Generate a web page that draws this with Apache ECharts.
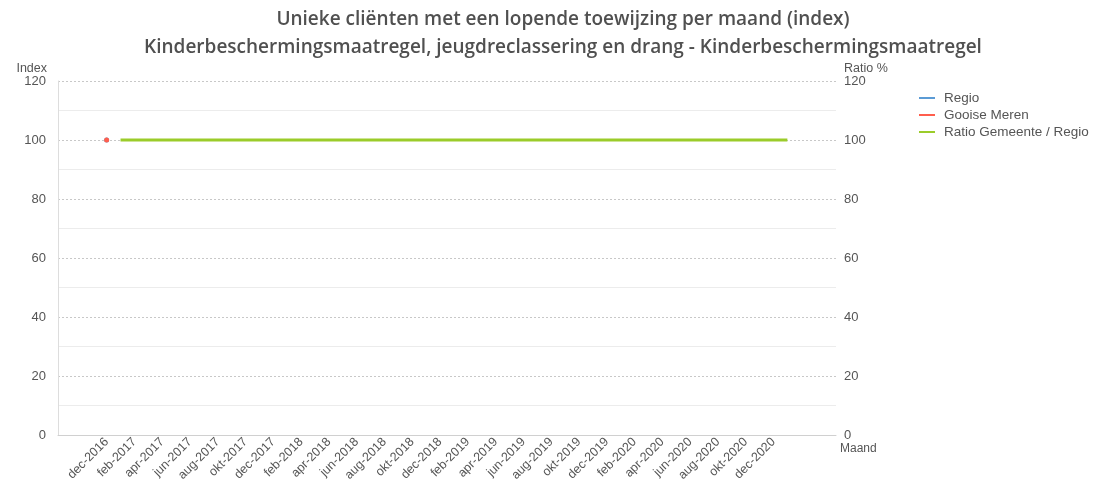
<!DOCTYPE html>
<html><head><meta charset="utf-8">
<script src="https://cdn.jsdelivr.net/npm/echarts@6/dist/echarts.min.js"></script>
<style>html,body{margin:0;padding:0;background:#fff}#c{width:1106px;height:490px}</style>
</head><body><div id="c"></div>
<script>
const monthNames = ['jan','feb','mrt','apr','mei','jun','jul','aug','sep','okt','nov','dec'];
// categories sep-2016 .. apr-2021
const categories = [];
for (let y = 2016; y <= 2021; y++) for (let m = 0; m < 12; m++) {
  const k = y * 12 + m;
  if (k >= 2016 * 12 + 8 && k <= 2021 * 12 + 3) categories.push(monthNames[m] + '-' + y);
}
const firstLabel = 'dec-2016', lastLabel = 'dec-2020';
const regioValues = { 'dec-2016': 100 };
const gooiseValues = { 'dec-2016': 100 };
const ratioStart = 'jan-2017', ratioEnd = 'jan-2021', ratioValue = 100;

const iFirst = categories.indexOf(firstLabel), iLast = categories.indexOf(lastLabel);
const iRs = categories.indexOf(ratioStart), iRe = categories.indexOf(ratioEnd);
const regio = categories.map(c => regioValues[c] ?? null);
const gooise = categories.map(c => gooiseValues[c] ?? null);
const ratio = categories.map((c, i) => (i >= iRs && i <= iRe) ? ratioValue : null);

const font = 'Liberation Sans, Arial, sans-serif';
const chart = echarts.init(document.getElementById('c'));
chart.setOption({
  animation: false,
  title: {
    text: 'Unieke cliënten met een lopende toewijzing per maand (index)\nKinderbeschermingsmaatregel, jeugdreclassering en drang - Kinderbeschermingsmaatregel',
    left: 558, top: 1, textAlign: 'center',
    textStyle: { fontFamily: 'Open Sans, Noto Sans, sans-serif', fontWeight: 600, fontSize: 19, color: '#505050', lineHeight: 28 }
  },
  legend: {
    orient: 'vertical', left: 914, top: 86, itemGap: 3,
    itemWidth: 16, itemHeight: 2, icon: 'rect',
    textStyle: { fontFamily: font, fontSize: 13.5, color: '#555', padding: [0, 0, 0, 4] },
    data: ['Regio', 'Gooise Meren', 'Ratio Gemeente / Regio']
  },
  grid: { left: 58, right: 270, top: 81, bottom: 55 },
  xAxis: {
    type: 'category', data: categories, boundaryGap: true,
    name: 'Maand', nameLocation: 'end', nameGap: 4,
    nameTextStyle: { fontFamily: font, fontSize: 12, color: '#555', padding: [8, 0, 0, 0], verticalAlign: 'top' },
    axisLine: { lineStyle: { color: '#d0d0d0' } },
    axisTick: { show: false },
    axisLabel: {
      rotate: 45, fontFamily: font, fontSize: 12.5, color: '#555', margin: 5,
      interval: (idx) => idx >= iFirst && idx <= iLast && (idx - iFirst) % 2 === 0
    },
    splitLine: { show: false }
  },
  yAxis: [{
    type: 'value', min: 0, max: 120, interval: 20,
    name: 'Index', nameGap: 2,
    nameTextStyle: { fontFamily: font, fontSize: 12.5, color: '#555', align: 'right', padding: [0, 11, -7, 0] },
    axisLine: { show: true, lineStyle: { color: '#ddd' } },
    axisTick: { show: false },
    axisLabel: { fontFamily: font, fontSize: 13, color: '#555', margin: 12 },
    splitLine: { lineStyle: { color: '#c8c8c8', type: [2, 2] } },
    minorTick: { show: false, splitNumber: 2 },
    minorSplitLine: { show: true, lineStyle: { color: '#ececec' } }
  }, {
    type: 'value', min: 0, max: 120, interval: 20,
    name: 'Ratio %', nameGap: 2,
    nameTextStyle: { fontFamily: font, fontSize: 12.5, color: '#555', align: 'left', padding: [0, 0, -7, 8] },
    axisLine: { show: false },
    axisTick: { show: false },
    axisLabel: { fontFamily: font, fontSize: 13, color: '#555', margin: 8 },
    splitLine: { show: false }
  }],
  series: [
    { name: 'Regio', type: 'line', yAxisIndex: 0, data: regio, color: '#5b9bd5', symbol: 'circle', symbolSize: 5, showSymbol: true, lineStyle: { width: 2 } },
    { name: 'Gooise Meren', type: 'line', yAxisIndex: 0, data: gooise, color: '#ff5e4d', symbol: 'circle', symbolSize: 5, showSymbol: true, lineStyle: { width: 2 } },
    { name: 'Ratio Gemeente / Regio', type: 'line', yAxisIndex: 1, data: ratio, color: '#9bcc2a', symbol: 'none', lineStyle: { width: 3 } }
  ]
});
</script></body></html>
